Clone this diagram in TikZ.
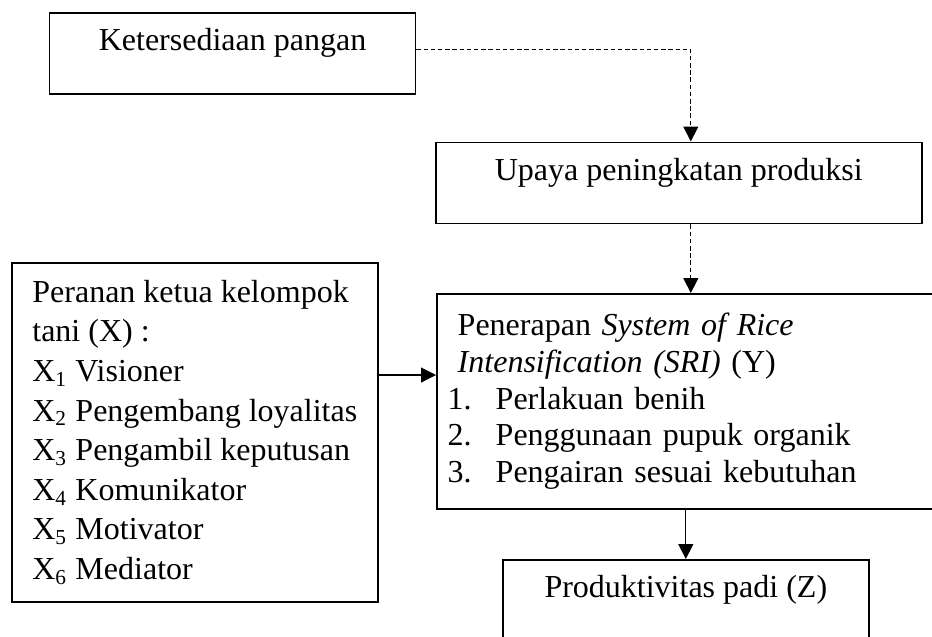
\documentclass[tikz,border=0pt]{standalone}
\usepackage{fontspec}
\setmainfont{Liberation Serif}
\usetikzlibrary{arrows.meta}
\begin{document}
\begin{tikzpicture}[x=0.375pt, y=-0.375pt,
  every node/.style={font=\fontsize{12pt}{14.85pt}\selectfont},
  onebox/.style={draw, line width=0.6pt, anchor=north west, inner sep=0pt,
    text height=14.25pt, text depth=16.25pt, minimum width=137.25pt},
  listbox/.style={draw, line width=0.6pt, anchor=north west, align=left},
  arr/.style={-{Triangle[length=5.6pt,width=5.6pt]}, line width=0.4pt},
  dashline/.style={arr, dash pattern=on 1.7pt off 1pt}]
\useasboundingbox (0,0) rectangle (932,636);
\clip (0,0) rectangle (932,636);
% boxes
\node[onebox] (ket) at (48.7,12) {Ketersediaan pangan};
\node[onebox, minimum width=182.25pt] (upaya) at (435,141.5) {Upaya peningkatan produksi};
\node[listbox, minimum width=137.25pt, minimum height=127.1pt] (peran) at (11,262)
  {Peranan ketua kelompok\\tani (X) :\\X\textsubscript{1} Visioner\\X\textsubscript{2} Pengembang loyalitas\\
   X\textsubscript{3} Pengambil keputusan\\X\textsubscript{4} Komunikator\\X\textsubscript{5} Motivator\\X\textsubscript{6} Mediator};
\node[listbox, font=\fontsize{12pt}{13.8pt}\selectfont, inner xsep=4.1pt, text width=182.7pt, minimum height=80.6pt] (sri) at (436,293)
  {\hspace*{3.75pt}Penerapan \textit{System of Rice}\\\hspace*{3.75pt}\textit{Intensification (SRI)} (Y)\\
   \makebox[18pt][l]{1.}Perlakuan benih\\\makebox[18pt][l]{2.}Penggunaan pupuk organik\\\makebox[18pt][l]{3.}Pengairan sesuai kebutuhan};
\node[onebox] (prod) at (502,559) {Produktivitas padi (Z)};
% connectors
\draw[dashline] ([yshift=1.5pt]ket.east) -| ([xshift=4.5pt]upaya.north);
\draw[dashline] ([xshift=4.5pt]upaya.south) -- ([xshift=4.5pt]upaya.south |- sri.north);
\coordinate (yin) at ([yshift=-30.75pt]sri.north west);
\draw[arr] (peran.east |- yin) -- (yin);
\draw[arr] (sri.south -| prod.north) -- (prod.north);
\end{tikzpicture}
\end{document}
